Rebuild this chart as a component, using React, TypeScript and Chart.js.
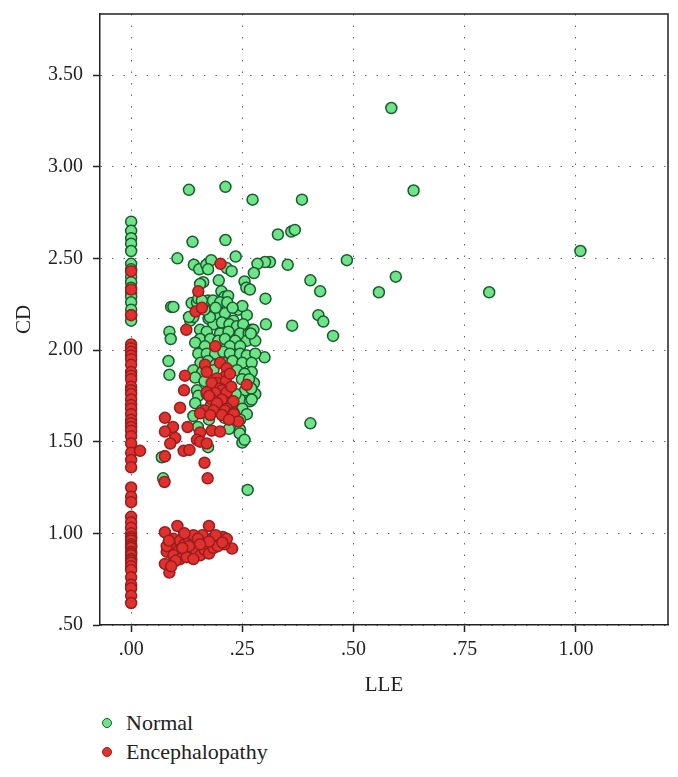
import React, { useEffect, useRef } from "react";
import { Chart, registerables } from "chart.js";

Chart.register(...registerables);

// ---- Data (LLE = x, CD = y) ----
const normalX: number[] = [
  // column at LLE = 0
  0, 0, 0, 0, 0, 0, 0, 0, 0, 0, 0, 0, 0, 0, 0, 0,
  // outliers
  0.585, 0.635, 1.01, 0.805, 0.595, 0.557, 0.485, 0.403, 0.425, 0.421, 0.432, 0.454, 0.403, 0.384,
  0.36, 0.368, 0.33, 0.352, 0.312, 0.301, 0.284, 0.362, 0.302, 0.303, 0.30, 0.273, 0.212, 0.13,
  0.138, 0.212, 0.104, 0.262,
  // left loners
  0.086, 0.089, 0.084, 0.086, 0.09, 0.095, 0.075, 0.072, 0.069,
  // upper cluster
  0.141, 0.153, 0.169, 0.18, 0.173, 0.215, 0.226, 0.235, 0.276, 0.197, 0.162, 0.155, 0.255, 0.259,
  0.203, 0.21, 0.218, 0.267, 0.136, 0.154, 0.173, 0.184, 0.148, 0.2, 0.216, 0.151, 0.159,
  // middle cluster
  0.241, 0.26, 0.174, 0.193, 0.211, 0.23, 0.133, 0.14, 0.185, 0.204, 0.221, 0.238, 0.252, 0.271,
  0.155, 0.17, 0.2, 0.219, 0.245, 0.264, 0.155, 0.178, 0.196, 0.211, 0.234, 0.26, 0.279, 0.222,
  0.245, 0.144, 0.166, 0.275, 0.269, 0.13, 0.177, 0.165, 0.25, 0.228, 0.19,
  // core
  0.151, 0.17, 0.189, 0.207, 0.222, 0.245, 0.26, 0.279, 0.156, 0.173, 0.19, 0.208, 0.228, 0.25,
  0.271, 0.14, 0.238, 0.271, 0.16, 0.185, 0.255, 0.144, 0.249, 0.276, 0.265, 0.165, 0.148, 0.256,
  0.279, 0.27, 0.151, 0.245, 0.267, 0.271, 0.144, 0.235, 0.17, 0.159, 0.14, 0.25, 0.26, 0.19,
  0.21, 0.225, 0.18, 0.2, 0.23, 0.175, 0.21, 0.245,
  // lower
  0.245, 0.244, 0.25, 0.173, 0.255, 0.15, 0.22,
];

const normalY: number[] = [
  2.70, 2.65, 2.61, 2.58, 2.54, 2.47, 2.44, 2.40, 2.37, 2.34, 2.31, 2.29, 2.26, 2.22, 2.19, 2.16,
  3.32, 2.87, 2.54, 2.315, 2.40, 2.315, 2.49, 2.38, 2.32, 2.19, 2.155, 2.077, 1.60, 2.82,
  2.646, 2.655, 2.63, 2.465, 2.48, 2.48, 2.47, 2.133, 2.28, 2.14, 1.96, 2.82, 2.89, 2.874,
  2.59, 2.60, 2.50, 1.237,
  2.10, 2.06, 1.94, 1.865, 2.235, 2.235, 1.42, 1.30, 1.415,
  2.465, 2.44, 2.465, 2.49, 2.44, 2.447, 2.43, 2.51, 2.42, 2.38, 2.37, 2.36, 2.374, 2.34,
  2.32, 2.29, 2.295, 2.33, 2.256, 2.27, 2.27, 2.27, 2.26, 2.26, 2.26, 2.28, 2.27,
  2.22, 2.19, 2.17, 2.19, 2.20, 2.16, 2.16, 2.18, 2.14, 2.15, 2.14, 2.13, 2.14, 2.11,
  2.11, 2.10, 2.09, 2.10, 2.09, 2.09, 2.06, 2.06, 2.05, 2.06, 2.05, 2.05, 2.05, 2.02,
  2.02, 2.04, 2.02, 2.11, 2.09, 2.18, 2.18, 2.22, 2.24, 2.23, 2.23,
  1.98, 1.98, 1.98, 1.99, 1.98, 1.98, 1.97, 1.98, 1.93, 1.94, 1.92, 1.93, 1.94, 1.93,
  1.93, 1.89, 1.89, 1.88, 1.88, 1.89, 1.87, 1.85, 1.84, 1.82, 1.84, 1.83, 1.78, 1.78,
  1.76, 1.79, 1.75, 1.73, 1.72, 1.73, 1.71, 1.76, 1.76, 1.67, 1.64, 1.68, 1.65, 1.73,
  1.72, 1.70, 1.70, 1.68, 1.66, 1.62, 1.63, 1.62,
  1.565, 1.545, 1.495, 1.47, 1.51, 1.58, 1.57,
];

const encephX: number[] = [
  // column at LLE = 0
  0, 0, 0, 0, 0, 0, 0, 0, 0, 0, 0, 0, 0, 0, 0, 0, 0, 0, 0, 0, 0, 0, 0, 0, 0, 0, 0,
  0, 0, 0, 0, 0, 0, 0, 0, 0, 0, 0, 0, 0, 0, 0, 0, 0, 0, 0, 0, 0, 0, 0, 0, 0, 0, 0,
  // middle cluster
  0.201, 0.151, 0.145, 0.159, 0.124, 0.189, 0.166, 0.17, 0.2, 0.215, 0.211, 0.193, 0.121, 0.193,
  0.213, 0.181, 0.2, 0.204, 0.189, 0.17, 0.215, 0.26, 0.119, 0.181, 0.204, 0.23, 0.193, 0.11,
  0.215, 0.211, 0.166, 0.185, 0.155, 0.23, 0.178, 0.204, 0.231, 0.241, 0.076, 0.094, 0.076, 0.099,
  0.088, 0.127, 0.155, 0.181, 0.2, 0.148, 0.155, 0.17, 0.118, 0.131, 0.02, 0.076, 0.165, 0.075,
  0.172, 0.222, 0.225, 0.175, 0.22,
  // low cluster
  0.104, 0.175, 0.076, 0.119, 0.206, 0.227, 0.076, 0.086, 0.085, 0.095, 0.10, 0.11, 0.12, 0.13,
  0.14, 0.15, 0.16, 0.17, 0.18, 0.19, 0.20, 0.21, 0.215, 0.19, 0.16, 0.14, 0.09, 0.105, 0.115,
  0.125, 0.135, 0.145, 0.155, 0.165, 0.175, 0.185, 0.195, 0.08, 0.095, 0.11, 0.125, 0.14, 0.08,
  0.085, 0.13, 0.15, 0.175, 0.205, 0.12, 0.10, 0.09, 0.115, 0.155,
];

const encephY: number[] = [
  2.43, 2.33, 2.19, 2.03, 2.01, 1.99, 1.97, 1.95, 1.92, 1.88, 1.86, 1.84, 1.80, 1.78, 1.76, 1.73,
  1.70, 1.68, 1.65, 1.62, 1.60, 1.58, 1.56, 1.53, 1.49, 1.44, 1.40, 1.36, 1.25, 1.20, 1.17, 1.09,
  1.06, 1.03, 1.00, 0.98, 0.97, 0.96, 0.94, 0.93, 0.92, 0.90, 0.89, 0.88, 0.86, 0.85, 0.84, 0.82,
  0.80, 0.76, 0.72, 0.70, 0.66, 0.62,
  2.47, 2.32, 2.21, 2.23, 2.11, 2.02, 1.92, 1.88, 1.93, 1.90, 1.855, 1.845, 1.86, 1.82,
  1.83, 1.82, 1.79, 1.78, 1.765, 1.77, 1.77, 1.81, 1.78, 1.73, 1.73, 1.72, 1.71, 1.685,
  1.68, 1.67, 1.67, 1.67, 1.655, 1.655, 1.645, 1.645, 1.65, 1.61, 1.63, 1.58, 1.555, 1.52,
  1.49, 1.58, 1.55, 1.56, 1.555, 1.51, 1.50, 1.49, 1.45, 1.455, 1.45, 1.42, 1.385, 1.28,
  1.30, 1.87, 1.80, 1.75, 1.62,
  1.04, 1.04, 1.006, 0.997, 0.98, 0.917, 0.833, 0.786, 0.95, 0.97, 0.93, 0.96, 0.94, 0.97,
  0.95, 0.93, 0.96, 0.94, 0.97, 0.95, 0.96, 0.94, 0.97, 0.99, 0.99, 0.99, 0.92, 0.90, 0.88,
  0.91, 0.89, 0.91, 0.88, 0.91, 0.89, 0.92, 0.93, 0.90, 0.88, 0.86, 0.87, 0.86, 0.93,
  0.96, 0.93, 0.97, 0.955, 0.95, 1.00, 0.85, 0.82, 0.92, 0.94,
];

const xTickValues: number[] = [0, 0.25, 0.5, 0.75, 1.0];
const yTickValues: number[] = [0.5, 1.0, 1.5, 2.0, 2.5, 3.0, 3.5];
const seriesNames: string[] = ["Normal", "Encephalopathy"];

const SERIF = "'Liberation Serif', 'DejaVu Serif', serif";
const GREEN_FILL = "#6ce487";
const GREEN_EDGE = "#1a5a2f";
const RED_FILL = "#e0312f";
const RED_EDGE = "#9a1d1d";

const fmt = (v: number) => {
  const s = Number(v).toFixed(2);
  return s.startsWith("0") ? s.slice(1) : s;
};

const toPoints = (xs: number[], ys: number[]) => xs.map((x, i) => ({ x, y: ys[i] }));

const frame = {
  id: "frameBox",
  afterDraw(chart: any) {
    const { ctx, chartArea } = chart;
    ctx.save();
    ctx.strokeStyle = "#222";
    ctx.lineWidth = 1.5;
    ctx.beginPath();
    ctx.moveTo(chartArea.left, chartArea.top);
    ctx.lineTo(chartArea.right, chartArea.top);
    ctx.lineTo(chartArea.right, chartArea.bottom);
    ctx.stroke();
    ctx.restore();
  },
};

export default function App() {
  const ref = useRef<HTMLCanvasElement | null>(null);

  useEffect(() => {
    if (!ref.current) return;
    const tickFont = { family: SERIF, size: 20 };
    const titleFont = { family: SERIF, size: 21 };
    const chart = new Chart(ref.current, {
      type: "scatter",
      data: {
        datasets: [
          {
            label: seriesNames[0],
            data: toPoints(normalX, normalY),
            backgroundColor: GREEN_FILL,
            borderColor: GREEN_EDGE,
            borderWidth: 1.5,
            pointRadius: 5.5,
            order: 2,
          },
          {
            label: seriesNames[1],
            data: toPoints(encephX, encephY),
            backgroundColor: RED_FILL,
            borderColor: RED_EDGE,
            borderWidth: 1.5,
            pointRadius: 5.5,
            order: 1,
          },
        ],
      },
      options: {
        responsive: false,
        animation: false,
        layout: { padding: { left: 0, right: 10, top: 14, bottom: 0 } },
        plugins: { legend: { display: false }, tooltip: { enabled: false } },
        scales: {
          x: {
            type: "linear",
            min: -0.07,
            max: 1.207,
            afterBuildTicks: (s: any) => {
              s.ticks = xTickValues.map((v) => ({ value: v }));
            },
            afterFit: (s: any) => {
              s.height = 75;
              s.paddingLeft = 0;
              s.paddingRight = 0;
            },
            ticks: {
              callback: (v: any) => fmt(v),
              font: tickFont,
              color: "#222",
              padding: 6,
              maxRotation: 0,
              autoSkip: false,
            },
            grid: {
              color: "#666",
              lineWidth: 1,
              tickLength: 7,
              tickColor: "#222",
              tickWidth: 1.5,
            },
            border: { display: true, color: "#222", width: 1.5, dash: [1.5, 10] },
            title: {
              display: true,
              text: "LLE",
              font: titleFont,
              color: "#222",
              padding: { top: 0, bottom: 2 },
            },
          },
          y: {
            type: "linear",
            min: 0.5,
            max: 3.833,
            afterBuildTicks: (s: any) => {
              s.ticks = yTickValues.map((v) => ({ value: v }));
            },
            afterFit: (s: any) => {
              s.width = 100;
              s.paddingTop = 0;
              s.paddingBottom = 0;
            },
            ticks: {
              callback: (v: any) => fmt(v),
              font: tickFont,
              color: "#222",
              padding: 10,
              autoSkip: false,
            },
            grid: {
              color: "#666",
              lineWidth: 1,
              tickLength: 7,
              tickColor: "#222",
              tickWidth: 1.5,
            },
            border: { display: true, color: "#222", width: 1.5, dash: [1.5, 10] },
            title: {
              display: true,
              text: "CD",
              font: titleFont,
              color: "#222",
              padding: { top: 12, bottom: 0 },
            },
          },
        },
      },
      plugins: [frame],
    } as any);
    return () => chart.destroy();
  }, []);

  const legendItems = [
    { name: seriesNames[0], fill: GREEN_FILL, edge: GREEN_EDGE, top: 711 },
    { name: seriesNames[1], fill: RED_FILL, edge: RED_EDGE, top: 740 },
  ];

  return (
    <div
      style={{
        position: "absolute",
        left: 0,
        top: 0,
        width: 678,
        height: 777,
        background: "#fff",
        overflow: "hidden",
      }}
    >
      <canvas ref={ref} width={678} height={700} style={{ display: "block" }} />
      {legendItems.map((it) => (
        <div
          key={it.name}
          style={{
            position: "absolute",
            left: 102,
            top: it.top,
            height: 24,
            display: "flex",
            alignItems: "center",
            fontFamily: SERIF,
            fontSize: 22,
            color: "#222",
          }}
        >
          <span
            style={{
              display: "inline-block",
              width: 8,
              height: 8,
              borderRadius: "50%",
              background: it.fill,
              border: `1.5px solid ${it.edge}`,
              marginRight: 14,
            }}
          />
          <span>{it.name}</span>
        </div>
      ))}
    </div>
  );
}
